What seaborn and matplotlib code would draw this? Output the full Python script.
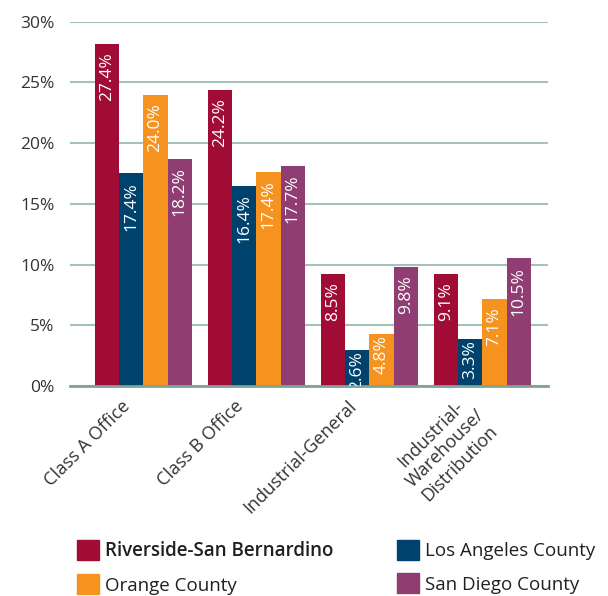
import pandas as pd
import seaborn as sb
import matplotlib.pyplot as plt
from matplotlib.patches import Patch

categories = ["Class A Office", "Class B Office", "Industrial-General",
              "Industrial-\nWarehouse/\nDistribution"]
regions = ["Riverside-San Bernardino", "Los Angeles County",
           "Orange County", "San Diego County"]

# bar heights as drawn (percent)
riverside = [28.2, 24.4, 9.2, 9.2]
los_angeles = [17.5, 16.5, 3.0, 3.9]
orange = [24.0, 17.6, 4.3, 7.2]
san_diego = [18.7, 18.1, 9.8, 10.5]

# printed value labels
riverside_lbl = ["27.4%", "24.2%", "8.5%", "9.1%"]
los_angeles_lbl = ["17.4%", "16.4%", "2.6%", "3.3%"]
orange_lbl = ["24.0%", "17.4%", "4.8%", "7.1%"]
san_diego_lbl = ["18.2%", "17.7%", "9.8%", "10.5%"]

yticks = [0, 5, 10, 15, 20, 25, 30]
colors = ["#a00c34", "#00426e", "#f6921e", "#8f3d73"]

series = [riverside, los_angeles, orange, san_diego]
labels = [riverside_lbl, los_angeles_lbl, orange_lbl, san_diego_lbl]

rows = []
for reg, vals in zip(regions, series):
    for cat, v in zip(categories, vals):
        rows.append({"category": cat, "region": reg, "value": v})
df = pd.DataFrame(rows)

sb.set_style("white")
plt.rcParams["font.family"] = ["Open Sans", "DejaVu Sans"]
txt = "#333333"

fig = plt.figure(figsize=(6.08, 5.96), dpi=100)
ax = fig.add_axes([70 / 608, 1 - 386 / 596, 478 / 608, (386 - 21.7) / 596])

sb.barplot(data=df, x="category", y="value", hue="region", order=categories,
           hue_order=regions, palette=colors, width=0.86, errorbar=None,
           saturation=1, linewidth=0, legend=False, ax=ax)

ax.set_xlim(-0.65, 3.58)
ax.set_ylim(0, 30)
ax.set_yticks(yticks)
ax.set_yticklabels([f"{t}%" for t in yticks], fontsize=12.5, color=txt)
ax.tick_params(axis="y", length=0, pad=11)
ax.set_axisbelow(True)
ax.grid(axis="y", color="#a3c2b8", linewidth=1.5)
ax.grid(axis="x", visible=False)
for s in ["top", "right", "left"]:
    ax.spines[s].set_visible(False)
ax.spines["bottom"].set_color("#7fa497")
ax.spines["bottom"].set_linewidth(2)
ax.set_xlabel("")
ax.set_ylabel("")

# value labels inside the bars (short bars get less room at the top)
for cont, lbls in zip(ax.containers, labels):
    for bar, lab in zip(cont, lbls):
        h = bar.get_height()
        pad = -6 if h > 5 else -1
        ax.annotate(lab, (bar.get_x() + bar.get_width() / 2, h),
                    xytext=(0, pad), textcoords="offset points", rotation=90,
                    ha="center", va="top", color="white", fontsize=12.5,
                    clip_on=True)

# rotated category labels
ax.set_xticks(range(len(categories)))
ax.set_xticklabels([])
ax.tick_params(axis="x", length=0)
for i, cat in enumerate(categories):
    dy = -4 if "\n" in cat else -8
    ax.annotate(cat, (i, 0), xycoords=ax.get_xaxis_transform(),
                xytext=(-16, dy), textcoords="offset points", rotation=45,
                rotation_mode="anchor", ha="right", va="top",
                multialignment="center", fontsize=13, color=txt)

# legend in two columns
handles = [Patch(color=c) for c in colors]
leg_kw = dict(loc="upper left", frameon=False, fontsize=13.5, handlelength=1.17,
              handleheight=1.28, handletextpad=0.3, labelspacing=0.68,
              borderpad=0, borderaxespad=0, labelcolor="#231f20")
col1 = fig.legend([handles[0], handles[2]], [regions[0], regions[2]],
                  bbox_to_anchor=(77 / 608, 1 - 540 / 596), **leg_kw)
col1.get_texts()[0].set_fontweight("semibold")
col2 = fig.legend([handles[1], handles[3]], [regions[1], regions[3]],
                  bbox_to_anchor=(397 / 608, 1 - 540 / 596), **leg_kw)

fig.savefig("out.png", dpi=100)
